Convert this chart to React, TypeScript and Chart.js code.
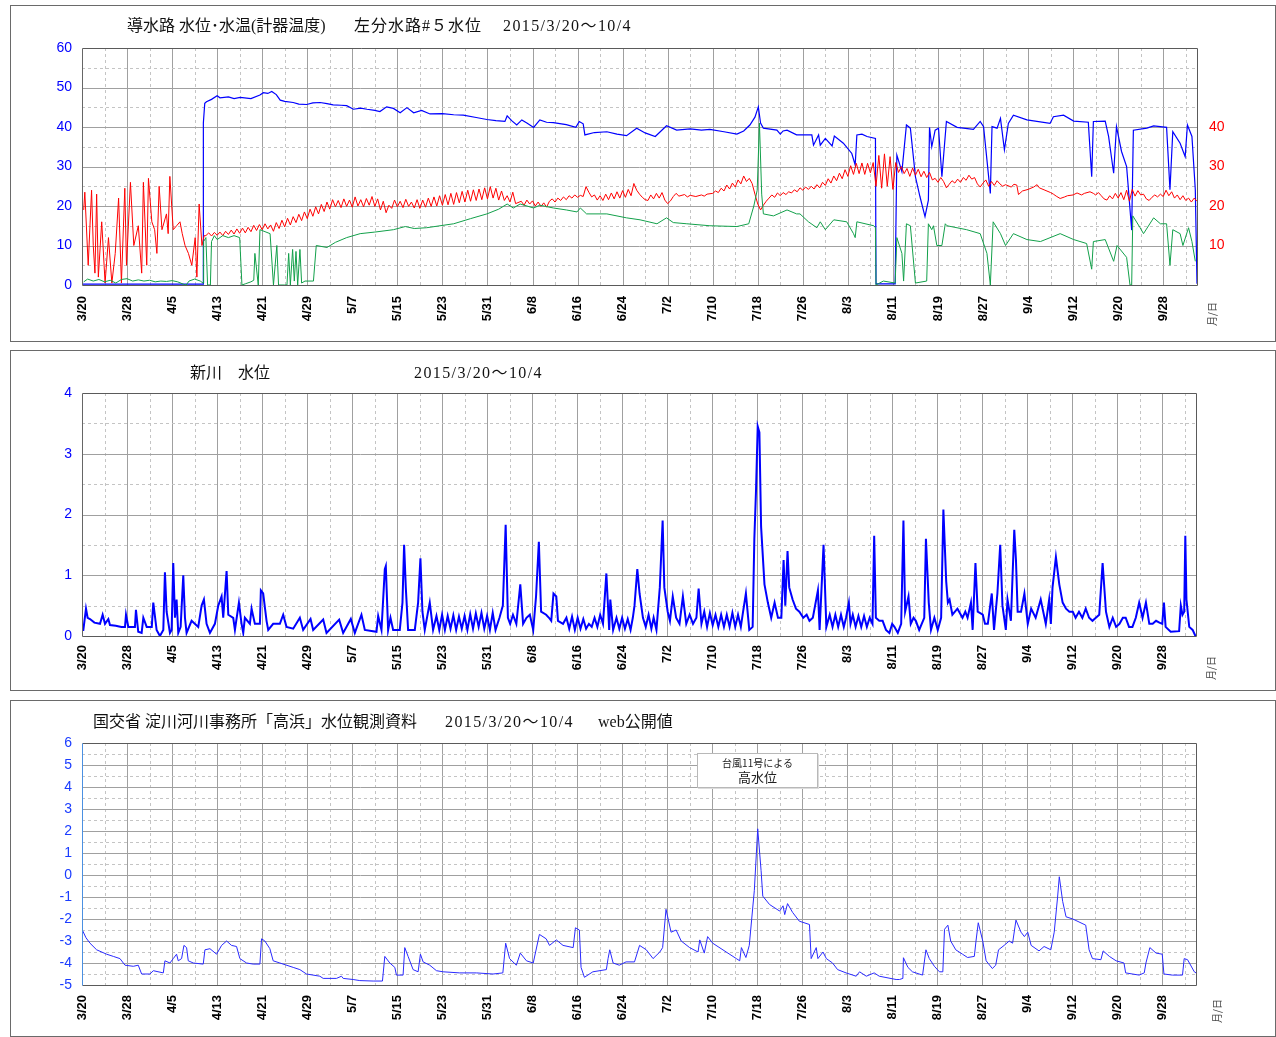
import React, { useEffect, useRef } from "react";
import { Chart, registerables } from "chart.js";

Chart.register(...registerables);

type Pt = [number, number];

// ---------- axis data ----------
const DATE_LABELS = ["3/20", "3/28", "4/5", "4/13", "4/21", "4/29", "5/7", "5/15", "5/23", "5/31", "6/8", "6/16", "6/24", "7/2", "7/10", "7/18", "7/26", "8/3", "8/11", "8/19", "8/27", "9/4", "9/12", "9/20", "9/28"];
const TICK_DAYS = [0, 8, 16, 24, 32, 40, 48, 56, 64, 72, 80, 88, 96, 104, 112, 120, 128, 136, 144, 152, 160, 168, 176, 184, 192];
const X_MAX_DAY = 198; // 10/4
const Y1_TICKS = [0, 10, 20, 30, 40, 50, 60];
const Y1_RIGHT_TICKS = [10, 20, 30, 40];
const Y2_TICKS = [0, 1, 2, 3, 4];
const Y3_TICKS = [-5, -4, -3, -2, -1, 0, 1, 2, 3, 4, 5, 6];

// ---------- series (day offset from 3/20, value) ----------
// 導水路 水位 (blue)
const SUIRO_LEVEL: Pt[] = [
  [0, 0.2], [21.5, 0.2], [21.55, 41], [21.8, 46], [22.1, 46.4], [23, 47], [24, 47.9], [24.5, 47.4], [26, 47.6], [27, 47.2],
  [28.1, 47.5], [30, 47.2], [31.6, 48.1], [32.2, 48.7], [33, 48.5], [33.7, 49.0], [34.5, 48.2], [35.2, 46.8], [36, 46.5], [37.5, 46.2],
  [38.5, 45.8], [39.9, 45.7], [41, 46.1], [42.3, 46.2], [43.5, 45.9], [44.6, 45.6], [46, 45.5], [47.0, 45.4], [48.2, 44.5], [49.5, 44.8],
  [50.6, 44.5], [52, 44.2], [52.9, 43.9], [54.1, 45.1], [55.3, 44.7], [56.5, 43.6], [57.7, 44.9], [58.9, 43.6], [60.3, 44.2], [61.8, 43.3],
  [64, 43.4], [66, 43.1], [67.7, 43.0], [70, 42.4], [71.9, 41.9], [73.5, 41.6], [75.1, 41.4], [75.5, 42.8], [76.3, 41.6], [77.2, 40.5],
  [78.1, 41.8], [79, 41.0], [80.2, 39.9], [81.3, 41.8], [82.5, 41.2], [83.7, 41.1], [86, 40.6], [87.7, 39.9], [88.3, 41.4], [89.0, 40.8],
  [89.3, 38.0], [91, 38.6], [93.2, 38.8], [95, 38.2], [96.7, 37.8], [98.5, 39.7], [100, 38.5], [101.8, 37.6], [103.8, 40.3], [105.6, 39.2],
  [108, 39.5], [110, 39.2], [111.5, 39.4], [114, 38.8], [116.3, 38.2], [117.5, 39.0], [118.6, 40.5], [119.5, 42.5], [120.1, 45.1], [120.5, 41.0],
  [121.0, 39.7], [123.4, 39.2], [124.0, 38.2], [124.5, 39.0], [125.2, 39.2], [126.9, 38.0], [129.6, 38.0], [129.9, 35.4], [130.8, 38.0], [131.1, 35.4],
  [132.0, 37.1], [133.2, 35.2], [133.6, 37.7], [135.2, 35.9], [136.7, 33.3], [137.3, 30.4], [137.6, 38.0], [138.5, 38.2], [139.4, 37.6], [140.9, 37.1],
  [141.0, 0.3], [144.4, 0.3], [144.7, 32.9], [145.6, 28.7], [146.4, 40.5], [147.1, 39.7], [148.0, 27.4], [148.8, 22.4], [149.7, 17.3], [150.3, 21.5],
  [150.5, 39.9], [150.9, 35.0], [151.5, 39.2], [152.1, 39.7], [152.7, 27.4], [153.5, 41.4], [155.4, 39.9], [158.3, 39.4], [159.5, 41.4], [160.1, 40.1],
  [161.3, 23.2], [161.6, 40.1], [162.5, 39.7], [163.1, 42.2], [163.8, 34.2], [164.5, 40.9], [165.4, 43.0], [167.8, 41.8], [171.9, 40.9], [172.5, 42.6],
  [174.3, 43.0], [176.1, 41.5], [178.7, 41.2], [179.3, 27.4], [179.6, 41.4], [181.7, 41.5], [182.3, 37.6], [183.2, 28.3], [183.7, 40.1], [184.6, 33.8],
  [185.5, 30.0], [186.4, 13.9], [186.7, 39.2], [189.1, 39.7], [190.3, 40.3], [192.6, 39.9], [193.2, 24.1], [193.7, 38.8], [195.0, 35.9], [195.9, 32.5],
  [196.3, 40.5], [197.1, 37.6], [197.7, 24.1], [198, 0.3],
];

// 水温(計器温度) (red)
const SUIRO_TEMP: Pt[] = [
  [0.3, 19], [0.5, 23.5], [1.1, 5], [1.7, 24], [2.0, 10], [2.3, 3], [2.6, 23], [2.9, 2], [3.5, 16], [4.1, 0.5],
  [4.7, 12], [5.3, 0.5], [5.9, 8], [6.5, 22], [7.0, 0.5], [7.6, 24.5], [7.9, 5], [8.6, 26], [9.2, 10], [10.0, 15],
  [10.6, 3], [10.9, 26], [11.5, 5], [11.8, 27], [12.4, 16], [12.9, 14], [13.3, 8], [13.7, 25], [14.2, 14], [15.0, 18],
  [15.3, 13], [15.6, 27.5], [16.2, 14], [16.8, 15], [17.4, 16], [17.8, 13], [18.3, 10], [18.9, 8], [19.5, 5], [20.1, 12],
  [20.4, 2], [20.8, 20.5], [21.3, 10], [21.7, 12.5],
  [22, 12.5], [22.5, 13.2], [23, 12.4], [23.5, 13.3], [24, 12.6], [24.5, 13.4], [25, 12.5], [25.5, 13.6], [26, 12.8], [26.5, 13.9],
  [27, 12.9], [27.5, 14.2], [28, 13.1], [28.5, 14.4], [29, 13.2], [29.5, 14.6], [30, 13.5], [30.5, 15.1], [31, 13.8], [31.5, 15.3],
  [32, 14.0], [32.5, 15.5], [33, 14.2], [33.5, 15.2], [34, 13.6], [34.5, 15.8], [35, 14.3], [35.5, 16.4], [36, 14.7], [36.5, 16.9],
  [37, 15.2], [37.5, 17.3], [38, 15.8], [38.5, 17.9], [39, 16.3], [39.5, 18.5], [40, 16.8], [40.5, 19.2], [41, 17.4], [41.5, 19.8],
  [42, 18.0], [42.5, 20.4], [43, 18.6], [43.5, 21.0], [44, 19.2], [44.5, 21.6], [45, 19.8], [45.5, 21.4], [46, 19.6], [46.5, 21.8],
  [47, 19.9], [47.5, 21.5], [48, 19.7], [48.5, 22.3], [49, 20.0], [49.5, 21.6], [50, 19.8], [50.5, 21.9], [51, 20.2], [51.5, 22.4],
  [52, 19.9], [52.5, 21.8], [53, 19.0], [53.5, 21.2], [54, 18.3], [54.5, 20.2], [55, 19.4], [55.5, 21.5], [56, 19.8], [56.5, 21.2],
  [57, 19.6], [57.5, 21.7], [58, 19.9], [58.5, 21.0], [59, 19.5], [59.5, 21.6], [60, 19.4], [60.5, 21.5], [61, 19.7], [61.5, 22.0],
  [62, 19.9], [62.5, 22.3], [63, 20.0], [63.5, 22.6], [64, 20.2], [64.5, 22.9], [65, 20.3], [65.5, 23.2], [66, 20.4], [66.5, 23.4],
  [67, 20.8], [67.5, 23.7], [68, 21.0], [68.5, 24.0], [69, 21.2], [69.5, 24.1], [70, 21.4], [70.5, 24.3], [71, 21.6], [71.5, 24.6],
  [72, 21.8], [72.5, 24.9], [73, 22.0], [73.5, 24.5], [74, 21.5], [74.5, 23.8], [75, 21.4], [75.5, 22.6], [76, 21.0], [76.5, 23.5],
  [77, 20.6], [78, 21.2], [78.5, 20.2], [79, 21.5], [79.5, 20.5], [80, 21.3], [80.5, 20.0], [81, 21.0], [81.5, 19.9], [82, 20.8],
  [82.5, 19.7], [83, 21.2], [83.5, 21.8], [84, 21.0], [84.5, 22.0], [85, 21.4], [85.5, 22.3], [86, 21.6], [86.5, 22.6], [87, 22.0],
  [87.5, 22.8], [88, 22.2], [88.5, 22.7], [89, 22.4], [89.5, 24.9], [90, 23.5], [90.5, 22.3], [91, 22.8], [91.5, 21.5], [92, 22.6],
  [92.5, 21.4], [93, 23.0], [93.5, 21.6], [94, 23.3], [94.5, 21.8], [95, 23.6], [95.5, 22.0], [96, 23.9], [96.5, 22.2], [97, 24.2],
  [97.5, 22.6], [98, 25.7], [98.5, 24.0], [99, 23.0], [99.5, 22.2], [100, 21.6], [100.5, 21.4], [101, 22.8], [101.5, 21.8], [102, 23.2],
  [102.5, 22.0], [103, 23.4], [103.5, 21.5], [104, 20.6], [104.5, 21.3], [105, 22.4], [105.5, 23.2], [106, 22.5], [107, 22.9], [107.5, 22.3],
  [108, 22.7], [109, 22.4], [110, 22.8], [110.5, 22.5], [111, 23.0], [112, 23.2], [112.5, 23.8], [113, 23.4], [113.5, 24.5], [114, 23.8],
  [114.5, 25.3], [115, 24.3], [115.5, 25.8], [116, 24.8], [116.5, 26.6], [117, 25.6], [117.5, 27.6], [118, 26.2], [118.5, 27.0], [119, 25.7],
  [119.5, 23.0], [120, 20.5], [120.5, 19.0], [121, 20.2], [121.5, 21.2], [122, 22.0], [122.5, 22.8], [123, 22.2], [123.5, 23.3], [124, 22.6],
  [124.5, 23.4], [125, 22.9], [125.5, 23.6], [126, 23.3], [126.5, 24.1], [127, 23.6], [127.5, 24.6], [128, 24.0], [128.5, 24.8], [129, 24.2],
  [129.5, 25.0], [130, 24.3], [130.5, 25.4], [131, 24.6], [131.5, 26.0], [132, 25.2], [132.5, 26.9], [133, 25.8], [133.5, 27.6], [134, 26.4],
  [134.5, 28.3], [135, 26.9], [135.5, 29.2], [136, 27.5], [136.5, 30.2], [137, 28.0], [137.5, 30.8], [138, 28.2], [138.5, 30.9], [139, 28.0],
  [139.5, 30.8], [140, 28.4], [140.5, 31.0], [141, 25.0], [141.5, 32.8], [142, 24.5], [142.5, 33.2], [143, 25.0], [143.5, 32.5], [144, 24.2],
  [144.5, 31.0], [145, 28.5], [145.5, 30.0], [146, 28.2], [146.5, 29.5], [147, 27.5], [147.5, 29.6], [148, 27.8], [148.5, 29.3], [149, 27.4],
  [149.5, 28.8], [150, 27.2], [150.5, 28.5], [151, 26.6], [151.5, 27.0], [152, 26.0], [152.5, 27.2], [153, 26.2], [153.5, 24.6], [154, 25.5],
  [154.5, 26.4], [155, 25.8], [155.5, 26.8], [156, 26.0], [156.5, 27.2], [157, 26.5], [157.5, 27.8], [158, 26.8], [158.5, 27.2], [159, 25.6],
  [159.5, 24.8], [160, 25.8], [160.5, 26.6], [161, 25.0], [161.5, 26.2], [162, 25.2], [162.5, 26.4], [163, 25.6], [163.5, 25.0], [164, 25.4],
  [165, 24.8], [165.5, 25.5], [166, 25.3], [166.3, 22.9], [167, 23.8], [168, 24.2], [169, 24.8], [169.6, 25.4], [170, 24.6], [171, 24.0],
  [172, 23.4], [172.5, 23.0], [173, 22.5], [173.7, 21.9], [174.5, 22.3], [175, 22.6], [176, 22.8], [176.7, 23.3], [177.5, 22.8], [178, 23.2],
  [179, 23.6], [179.6, 23.2], [180, 22.8], [180.5, 23.4], [181, 22.6], [181.5, 21.8], [182, 21.5], [182.5, 22.6], [183, 21.8], [183.5, 23.2],
  [184, 22.0], [184.5, 23.4], [185, 21.6], [185.5, 24.0], [186, 21.2], [186.5, 24.2], [187, 22.5], [187.5, 23.9], [188, 22.8], [188.5, 23.0],
  [189, 21.8], [189.5, 21.4], [190, 22.2], [190.5, 22.8], [191, 22.3], [191.5, 23.0], [192, 22.4], [192.5, 24.0], [193, 22.6], [193.5, 23.6],
  [194, 22.0], [194.5, 22.8], [195, 21.6], [195.5, 22.6], [196, 21.4], [196.5, 22.0], [197, 21.0], [197.5, 22.0], [198, 21.2],
];

// 左分水路#5 水位 (green)
const BUNSUIRO5_LEVEL: Pt[] = [
  [0.3, 0.8], [1, 1.5], [2, 1.0], [3, 1.4], [4, 0.8], [5, 1.2], [6, 0.5], [7, 1.4], [8, 1.6], [9, 1.0],
  [10, 1.3], [11, 1.0], [12, 1.2], [13, 0.8], [14, 1.0], [15, 0.9], [16, 1.1], [17, 0.8], [18, 0.2], [18.5, 0.0],
  [19, 1.0], [20, 1.5], [21, 1.0], [21.5, 0.5], [21.6, 11], [22, 12], [22.3, 0], [22.8, 0], [23, 11], [23.5, 12.5],
  [24, 11.5], [25, 12.5], [26, 12], [27, 12.5], [28, 12], [28.4, 0], [29, 0.3], [30, 0.8], [30.5, 1.2], [30.7, 8],
  [31.3, 0], [31.6, 14], [32.5, 13.5], [33.4, 13], [34.0, 0], [34.6, 10], [34.9, 0], [36.0, 0], [36.4, 0], [36.7, 8],
  [37.0, 0], [37.4, 9], [37.7, 1], [38.0, 8.5], [38.3, 0], [38.7, 9], [39.0, 0.5], [39.6, 1], [41.1, 1], [41.6, 10],
  [43.5, 9.5], [45, 10.8], [47.0, 12], [49.4, 13], [52, 13.4], [55.3, 14], [57.4, 14.8], [59, 14.3], [61.2, 14.5], [66.0, 15.5],
  [69, 16.8], [71.9, 18], [74, 19.2], [75.5, 20.5], [76.6, 19.5], [77.8, 20.5], [80.2, 19.5], [81.3, 20.2], [83.7, 19.5], [86, 19.0],
  [87.9, 18.5], [88.5, 19.5], [89.6, 18], [93.2, 18], [96.7, 17], [99.1, 16.5], [102.1, 15.5], [103.8, 17], [105.0, 15.8], [107.4, 15.5],
  [111.5, 15], [116.3, 14.8], [118.4, 15.5], [119.3, 20], [119.9, 24], [120.3, 41], [120.7, 23], [121.0, 18], [122.8, 17.5], [125.2, 19],
  [126.9, 18], [127.5, 18], [129.0, 16], [130.5, 14.5], [131.1, 16], [132.0, 14], [133.5, 16.5], [135.8, 16], [137.0, 13], [137.3, 12],
  [137.6, 16], [140.6, 15], [140.9, 14.5], [141.0, 0], [142.3, 1], [144.4, 0.5], [144.7, 12], [145.6, 8], [145.9, 1], [146.4, 15.5],
  [147.1, 15], [148.0, 0.5], [150.0, 1], [150.3, 15.5], [150.9, 14], [151.2, 15], [151.8, 10], [152.7, 10], [153.3, 15.5], [153.6, 15],
  [157.1, 14], [159.5, 13], [160.7, 8], [161.3, 0], [161.8, 16], [163.1, 13], [164.0, 10], [165.4, 13], [167.8, 11.5], [170.2, 11],
  [173.7, 13], [176.1, 11.5], [178.4, 10.5], [179.3, 4], [179.6, 11], [181.7, 11.5], [183.2, 6], [183.8, 10], [185.5, 7], [186.1, 0],
  [186.4, 0], [186.6, 17.5], [187.9, 14.5], [188.5, 13], [190.3, 17], [191.5, 15.5], [192.6, 15.5], [193.2, 5], [193.7, 14], [195.0, 13],
  [195.5, 10], [196.5, 14.5], [197.1, 11], [197.7, 6],
];

// 新川 水位
const SHINKAWA_LEVEL: Pt[] = [
  [0, 0.1], [0.24, 0.1], [0.71, 0.45], [1.0, 0.3], [1.42, 0.28], [2.2, 0.22], [3.2, 0.2], [3.67, 0.35], [4.09, 0.2], [4.68, 0.28],
  [4.97, 0.18], [6.0, 0.17], [7.0, 0.15], [7.64, 0.15], [7.82, 0.35], [8.23, 0.15], [9.41, 0.15], [9.59, 0.43], [10.0, 0.07], [10.6, 0.05],
  [10.9, 0.3], [11.5, 0.15], [12.4, 0.15], [12.67, 0.55], [13.26, 0.1], [13.85, 0.0], [14.45, 0.1], [14.74, 1.05], [15.04, 0.4], [15.63, 0.05],
  [15.93, 0.1], [16.22, 1.2], [16.52, 0.3], [16.81, 0.6], [17.11, 0.05], [17.53, 0.15], [18.0, 1.0], [18.3, 0.3], [18.59, 0.05], [19.48, 0.25],
  [20.66, 0.15], [21.26, 0.5], [21.67, 0.6], [22.14, 0.2], [22.74, 0.05], [23.62, 0.2], [24.22, 0.5], [24.81, 0.65], [25.1, 0.3], [25.7, 1.07],
  [26.0, 0.35], [26.88, 0.3], [27.18, 0.1], [27.89, 0.55], [28.36, 0.2], [28.66, 0.05], [28.95, 0.3], [29.84, 0.2], [30.14, 0.45], [30.73, 0.2],
  [31.62, 0.2], [31.79, 0.75], [32.2, 0.7], [32.8, 0.25], [33.1, 0.1], [33.98, 0.2], [35.17, 0.2], [35.76, 0.35], [36.35, 0.15], [37.54, 0.12],
  [38.72, 0.3], [39.31, 0.1], [40.62, 0.28], [41.09, 0.1], [42.87, 0.27], [43.46, 0.05], [45.71, 0.27], [46.42, 0.05], [47.78, 0.28], [48.49, 0.05],
  [49.67, 0.35], [50.27, 0.1], [52.34, 0.07], [52.64, 0.33], [53.23, 0.1], [53.82, 1.1], [54.0, 1.15], [54.41, 0.1], [54.83, 0.3], [55.3, 0.1],
  [56.48, 0.1], [56.96, 0.55], [57.25, 1.5], [57.55, 0.8], [57.96, 0.1], [59.15, 0.1], [59.74, 0.55], [60.15, 1.28], [60.51, 0.4], [60.92, 0.1],
  [61.81, 0.55], [62.4, 0.1], [63, 0.33], [63.5, 0.1], [64, 0.35], [64.5, 0.1], [65, 0.33], [65.5, 0.12], [66, 0.34], [66.5, 0.1],
  [67, 0.32], [67.5, 0.12], [68, 0.33], [68.5, 0.1], [69, 0.36], [69.5, 0.12], [70, 0.37], [70.5, 0.15], [71, 0.38], [71.5, 0.12],
  [72, 0.33], [72.5, 0.1], [73, 0.38], [73.5, 0.1], [74.2, 0.3], [74.8, 0.5], [75.3, 1.83], [75.7, 0.3], [76.1, 0.2], [76.6, 0.35],
  [77.2, 0.2], [77.9, 0.85], [78.4, 0.2], [79.0, 0.3], [79.6, 0.35], [80.2, 0.1], [80.7, 0.65], [81.2, 1.55], [81.6, 0.4], [82.5, 0.35],
  [83.0, 0.3], [83.4, 0.25], [83.8, 0.7], [84.3, 0.65], [84.6, 0.25], [85.5, 0.2], [86.1, 0.3], [86.6, 0.12], [87.1, 0.32], [87.6, 0.1],
  [88.1, 0.3], [88.6, 0.12], [89.1, 0.28], [89.6, 0.12], [90.1, 0.2], [90.6, 0.15], [91.1, 0.3], [91.6, 0.15], [92.1, 0.35], [92.6, 0.2],
  [93.2, 1.03], [93.7, 0.1], [93.9, 0.6], [94.4, 0.1], [95.0, 0.3], [95.5, 0.12], [96.0, 0.3], [96.5, 0.12], [97.0, 0.28], [97.5, 0.1],
  [97.9, 0.3], [98.2, 0.5], [98.7, 1.1], [99.1, 0.7], [99.7, 0.3], [100.2, 0.15], [100.7, 0.35], [101.2, 0.12], [101.6, 0.3], [102.1, 0.1],
  [102.7, 0.8], [103.2, 1.9], [103.5, 0.8], [104.1, 0.4], [104.5, 0.25], [105.0, 0.65], [105.6, 0.3], [106.2, 0.2], [106.8, 0.65], [107.4, 0.2],
  [108.0, 0.35], [108.6, 0.2], [109.2, 0.3], [109.6, 0.78], [110.1, 0.2], [110.6, 0.4], [111.1, 0.15], [111.6, 0.38], [112.1, 0.18], [112.6, 0.35],
  [113.1, 0.15], [113.6, 0.35], [114.1, 0.15], [114.6, 0.35], [115.1, 0.15], [115.6, 0.38], [116.1, 0.15], [116.6, 0.35], [117.1, 0.15], [117.5, 0.4],
  [118.0, 0.7], [118.6, 0.1], [119.2, 0.15], [119.5, 1.6], [119.8, 2.4], [120.1, 3.45], [120.4, 3.35], [120.7, 1.8], [121.3, 0.85], [121.9, 0.55],
  [122.5, 0.3], [123.1, 0.55], [123.7, 0.3], [124.3, 0.3], [124.7, 1.25], [125.0, 0.5], [125.4, 1.4], [125.7, 0.8], [126.3, 0.6], [126.9, 0.45],
  [127.5, 0.4], [128.2, 0.3], [128.8, 0.35], [129.3, 0.25], [129.9, 0.3], [130.8, 0.75], [131.1, 0.1], [131.8, 1.5], [132.3, 0.15], [132.9, 0.35],
  [133.4, 0.15], [133.9, 0.35], [134.4, 0.15], [134.9, 0.35], [135.4, 0.15], [135.8, 0.3], [136.3, 0.55], [136.6, 0.2], [137.0, 0.35], [137.5, 0.15],
  [138.0, 0.33], [138.5, 0.15], [139.0, 0.33], [139.5, 0.15], [140.0, 0.3], [140.5, 0.2], [140.8, 1.65], [141.1, 0.3], [141.7, 0.25], [142.3, 0.25],
  [142.9, 0.1], [143.5, 0.05], [144.0, 0.2], [144.4, 0.15], [145.0, 0.05], [145.6, 0.2], [146.0, 1.9], [146.3, 0.4], [146.9, 0.65], [147.3, 0.2],
  [147.8, 0.3], [148.2, 0.25], [148.8, 0.1], [149.7, 0.3], [150.0, 1.6], [150.5, 0.55], [150.9, 0.1], [151.5, 0.3], [152.1, 0.1], [152.7, 0.3],
  [153.1, 2.08], [153.6, 0.9], [153.9, 0.55], [154.2, 0.6], [154.7, 0.35], [155.6, 0.45], [156.5, 0.3], [157.0, 0.4], [157.4, 0.3], [158.0, 0.55],
  [158.3, 0.1], [158.8, 1.2], [159.2, 0.4], [160.1, 0.35], [160.5, 0.2], [161.0, 0.2], [161.7, 0.7], [162.1, 0.1], [162.7, 0.7], [163.2, 1.5],
  [163.6, 0.5], [164.2, 0.1], [164.5, 0.6], [165.1, 0.25], [165.7, 1.75], [166.0, 1.25], [166.3, 0.4], [166.9, 0.4], [167.5, 0.7], [168.1, 0.2],
  [168.7, 0.45], [169.5, 0.3], [170.4, 0.6], [171.3, 0.2], [171.9, 0.6], [172.2, 0.2], [172.5, 0.8], [173.1, 1.3], [173.7, 0.85], [174.3, 0.55],
  [174.9, 0.45], [175.5, 0.4], [176.1, 0.4], [176.6, 0.3], [177.2, 0.4], [177.8, 0.3], [178.4, 0.45], [179.0, 0.3], [179.6, 0.25], [180.2, 0.3],
  [180.8, 0.35], [181.4, 1.2], [182.0, 0.4], [182.6, 0.15], [183.2, 0.3], [183.8, 0.15], [184.4, 0.2], [185.0, 0.3], [185.5, 0.3], [186.1, 0.15],
  [186.7, 0.15], [187.3, 0.3], [187.9, 0.55], [188.5, 0.3], [189.1, 0.55], [189.7, 0.2], [190.3, 0.2], [190.9, 0.25], [191.5, 0.22], [192.0, 0.2],
  [192.3, 0.55], [192.6, 0.15], [193.5, 0.07], [195.0, 0.08], [195.3, 0.5], [195.6, 0.35], [195.9, 0.4], [196.1, 1.65], [196.3, 0.6], [196.8, 0.15],
  [197.4, 0.1], [197.9, 0.0], [198, 0.0],
];

// 国交省「高浜」水位
const TAKAHAMA_LEVEL: Pt[] = [
  [0, -2.45], [0.06, -2.5], [0.7, -2.85], [1.42, -3.1], [2.6, -3.4], [4.38, -3.6], [5.57, -3.7], [6.75, -3.8], [7.64, -4.1], [9.12, -4.15],
  [10.0, -4.1], [10.6, -4.5], [12.08, -4.5], [12.67, -4.35], [14.45, -4.45], [14.74, -3.9], [15.63, -4.0], [16.22, -3.8], [16.81, -3.6], [17.11, -3.9],
  [17.7, -3.8], [18.12, -3.2], [18.59, -3.3], [18.89, -3.9], [19.78, -4.0], [21.55, -4.05], [21.85, -3.4], [22.74, -3.35], [23.92, -3.6], [24.81, -3.2],
  [25.7, -3.0], [26.58, -3.2], [27.47, -3.25], [28.06, -3.8], [29.25, -4.0], [30.43, -4.05], [31.62, -4.05], [31.91, -2.9], [32.5, -3.0], [33.39, -3.35],
  [33.98, -3.9], [35.17, -4.0], [37.54, -4.2], [38.72, -4.3], [39.9, -4.5], [42.27, -4.6], [42.87, -4.7], [45.23, -4.7], [46.12, -4.6], [46.42, -4.7],
  [48.19, -4.75], [49.38, -4.8], [51.75, -4.82], [53.4, -4.82], [53.82, -3.7], [54.71, -4.0], [55.6, -4.2], [55.89, -4.55], [57.07, -4.55], [57.37, -3.3],
  [57.96, -3.7], [58.85, -4.3], [59.74, -4.4], [60.15, -3.6], [60.63, -3.95], [61.81, -4.1], [63.0, -4.35], [64.18, -4.4], [67.14, -4.45], [70.1, -4.45],
  [73.06, -4.5], [74.8, -4.45], [75.3, -3.1], [76.0, -3.8], [77.2, -4.1], [77.9, -3.55], [79.0, -3.9], [80.2, -4.0], [81.3, -2.7], [82.5, -2.9],
  [83.1, -3.2], [84.3, -2.95], [85.5, -3.2], [87.3, -3.3], [87.7, -2.4], [88.4, -2.5], [88.7, -4.2], [89.3, -4.65], [90.8, -4.4], [93.2, -4.3],
  [93.5, -3.8], [93.8, -3.4], [94.4, -4.0], [95.5, -4.1], [96.7, -3.95], [98.2, -3.95], [99.1, -3.2], [100.3, -3.4], [101.5, -3.8], [102.7, -3.5],
  [103.2, -3.3], [103.8, -1.56], [104.7, -2.6], [105.6, -2.5], [106.5, -3.0], [108.0, -3.3], [109.5, -3.5], [109.8, -2.95], [110.6, -3.55], [111.2, -2.8],
  [112.1, -3.1], [114.5, -3.5], [116.3, -3.8], [116.9, -3.9], [117.2, -3.3], [118.0, -3.75], [118.6, -3.2], [119.5, -0.7], [120.1, 2.1], [120.7, 0.2],
  [121.0, -0.96], [122.2, -1.34], [124.0, -1.64], [124.6, -1.4], [124.9, -1.8], [125.4, -1.3], [126.3, -1.7], [127.5, -2.1], [129.3, -2.25], [129.6, -3.8],
  [130.5, -3.3], [130.8, -3.8], [131.7, -3.5], [132.3, -3.8], [133.4, -4.0], [134.3, -4.3], [135.8, -4.45], [137.6, -4.6], [138.2, -4.4], [139.4, -4.6],
  [140.8, -4.45], [141.7, -4.6], [144.7, -4.75], [145.3, -4.75], [145.9, -4.7], [146.0, -3.76], [146.8, -4.2], [147.6, -4.4], [149.4, -4.55], [150.0, -3.4],
  [150.6, -3.8], [151.5, -4.15], [152.4, -4.4], [153.0, -4.4], [153.3, -2.47], [153.9, -2.28], [154.4, -3.0], [155.3, -3.4], [156.5, -3.6], [157.4, -3.75],
  [158.6, -3.7], [158.9, -3.0], [159.3, -2.17], [160.1, -3.0], [160.7, -3.9], [161.8, -4.25], [162.4, -4.1], [162.9, -3.4], [163.9, -3.2], [164.8, -3.0],
  [165.4, -3.1], [166.0, -2.05], [166.9, -2.6], [167.5, -2.8], [168.1, -2.6], [168.7, -3.2], [170.1, -3.45], [171.0, -3.25], [172.2, -3.4], [172.8, -2.6],
  [173.4, -1.0], [173.7, -0.08], [174.3, -1.2], [174.9, -1.9], [176.1, -2.0], [178.4, -2.28], [179.0, -3.4], [179.6, -3.8], [181.1, -3.85], [181.5, -3.45],
  [182.6, -3.7], [183.8, -3.9], [185.2, -4.0], [185.5, -4.45], [187.9, -4.55], [188.8, -4.45], [189.1, -4.0], [189.8, -3.3], [190.9, -3.55], [192.0, -3.6],
  [192.3, -4.5], [193.8, -4.55], [195.6, -4.55], [195.9, -3.8], [196.5, -3.85], [197.7, -4.4], [198, -4.45],
];

// ---------- layout / style ----------
const PANEL_LEFT = 10;
const PANEL_WIDTH = 1266;
const PLOT_LEFT = 82;
const SANS = '"Liberation Sans", Arial, sans-serif';
const TITLE_FONT = '"Liberation Serif", "Noto Sans CJK JP", serif';
const JP_SANS = '"Noto Sans CJK JP", sans-serif';

interface SeriesCfg { data: Pt[]; color: string; width: number; }
interface PanelCfg {
  top: number; height: number; plotTop: number; plotBottom: number; plotRight: number;
  yMin: number; yMax: number; yTicks: number[]; yMinor: number; yMajor: number;
  yLabelColor: string; leftFrameColor: string; labelPad: number;
  rightTicks?: number[];
  series: SeriesCfg[];
}

const PANELS: PanelCfg[] = [
  {
    top: 5, height: 337, plotTop: 48, plotBottom: 285, plotRight: 1197,
    yMin: 0, yMax: 60, yTicks: Y1_TICKS, yMinor: 5, yMajor: 10,
    yLabelColor: "#0000ff", leftFrameColor: "#666666", labelPad: 11, rightTicks: Y1_RIGHT_TICKS,
    series: [
      { data: BUNSUIRO5_LEVEL, color: "#12a04a", width: 1 },
      { data: SUIRO_TEMP, color: "#ff0000", width: 1 },
      { data: SUIRO_LEVEL, color: "#0000ff", width: 1.2 },
    ],
  },
  {
    top: 350, height: 341, plotTop: 393, plotBottom: 636, plotRight: 1196,
    yMin: 0, yMax: 4, yTicks: Y2_TICKS, yMinor: 0.5, yMajor: 1,
    yLabelColor: "#0000ff", leftFrameColor: "#666666", labelPad: 9,
    series: [{ data: SHINKAWA_LEVEL, color: "#0000ff", width: 2 }],
  },
  {
    top: 700, height: 337, plotTop: 743, plotBottom: 985, plotRight: 1196,
    yMin: -5, yMax: 6, yTicks: Y3_TICKS, yMinor: 0.5, yMajor: 1,
    yLabelColor: "#1a3cff", leftFrameColor: "#4a90e2", labelPad: 10,
    series: [{ data: TAKAHAMA_LEVEL, color: "#2a2aff", width: 1 }],
  },
];

function crisp(v: number) { return Math.round(v) + 0.5; }

function gridPlugin(cfg: PanelCfg) {
  return {
    id: "customGrid",
    beforeDatasetsDraw(chart: any) {
      const { ctx, chartArea: a, scales } = chart;
      const xs = scales.x; const ys = scales.y;
      ctx.save();
      ctx.lineWidth = 1;
      for (let d = 4; d < X_MAX_DAY; d += 4) {
        const px = crisp(xs.getPixelForValue(d));
        const major = d % 8 === 0;
        ctx.strokeStyle = major ? "#a0a0a0" : "#c4c4c4";
        ctx.setLineDash(major ? [] : [3, 3]);
        ctx.beginPath(); ctx.moveTo(px, a.top); ctx.lineTo(px, a.bottom); ctx.stroke();
      }
      const steps = Math.round((cfg.yMax - cfg.yMin) / cfg.yMinor);
      for (let i = 1; i < steps; i++) {
        const v = cfg.yMin + i * cfg.yMinor;
        const r = v / cfg.yMajor;
        const major = Math.abs(r - Math.round(r)) < 1e-6;
        const py = crisp(ys.getPixelForValue(v));
        ctx.strokeStyle = major ? "#a0a0a0" : "#c4c4c4";
        ctx.setLineDash(major ? [] : [3, 3]);
        ctx.beginPath(); ctx.moveTo(a.left, py); ctx.lineTo(a.right, py); ctx.stroke();
      }
      ctx.restore();
    },
    afterDatasetsDraw(chart: any) {
      const { ctx, chartArea: a } = chart;
      ctx.save();
      ctx.lineWidth = 1;
      ctx.setLineDash([]);
      const l = crisp(a.left), r = crisp(a.right), t = crisp(a.top), b = crisp(a.bottom);
      ctx.strokeStyle = "#5a5a5a";
      ctx.beginPath();
      ctx.moveTo(l, t); ctx.lineTo(r, t); ctx.lineTo(r, b); ctx.lineTo(l, b);
      ctx.stroke();
      ctx.strokeStyle = cfg.leftFrameColor;
      ctx.beginPath(); ctx.moveTo(l, t); ctx.lineTo(l, b); ctx.stroke();
      ctx.restore();
    },
  };
}

function buildChart(canvas: HTMLCanvasElement, cfg: PanelCfg) {
  const H = cfg.height;
  const topPad = cfg.plotTop - cfg.top;
  const bottomRel = cfg.plotBottom - cfg.top;
  const xAxisH = H - bottomRel;
  const yAxisW = PLOT_LEFT - PANEL_LEFT;
  const rightW = PANEL_WIDTH - (cfg.plotRight - PANEL_LEFT);
  const scales: any = {
    x: {
      type: "linear", min: 0, max: X_MAX_DAY,
      afterBuildTicks: (s: any) => { s.ticks = TICK_DAYS.map((v) => ({ value: v })); },
      afterFit: (s: any) => { s.height = xAxisH; },
      grid: { display: false, drawTicks: false },
      border: { display: false },
      ticks: {
        autoSkip: false, minRotation: 90, maxRotation: 90, padding: cfg.labelPad,
        color: "#000000", font: { family: SANS, size: 13, weight: "bold" },
        callback: (_v: any, i: number) => DATE_LABELS[i],
      },
    },
    y: {
      type: "linear", position: "left", min: cfg.yMin, max: cfg.yMax,
      afterBuildTicks: (s: any) => { s.ticks = cfg.yTicks.map((v) => ({ value: v })); },
      afterFit: (s: any) => { s.width = yAxisW; },
      grid: { display: false, drawTicks: false },
      border: { display: false },
      ticks: { padding: 10, color: cfg.yLabelColor, font: { family: SANS, size: 14 }, callback: (v: any) => String(v) },
    },
  };
  if (cfg.rightTicks) {
    const rt = cfg.rightTicks;
    scales.y2 = {
      type: "linear", position: "right", min: cfg.yMin, max: cfg.yMax,
      afterBuildTicks: (s: any) => { s.ticks = rt.map((v) => ({ value: v })); },
      afterFit: (s: any) => { s.width = rightW; },
      grid: { display: false, drawTicks: false },
      border: { display: false },
      ticks: { padding: 12, color: "#ff0000", font: { family: SANS, size: 14 }, callback: (v: any) => String(v) },
    };
  }
  return new Chart(canvas, {
    type: "line",
    data: {
      datasets: cfg.series.map((s) => ({
        data: s.data.map(([x, y]) => ({ x, y })),
        borderColor: s.color,
        borderWidth: s.width,
        pointRadius: 0,
        tension: 0,
        fill: false,
      })),
    },
    options: {
      responsive: false,
      animation: false,
      events: [],
      layout: { padding: { top: topPad, left: 0, bottom: 0, right: cfg.rightTicks ? 0 : rightW } },
      plugins: { legend: { display: false }, tooltip: { enabled: false }, title: { display: false } },
      scales,
    },
    plugins: [gridPlugin(cfg)],
  } as any);
}

const abs = (left: number, top: number, extra: React.CSSProperties = {}): React.CSSProperties => ({
  position: "absolute", left, top, whiteSpace: "nowrap", ...extra,
});

export default function App() {
  const c1 = useRef<HTMLCanvasElement>(null);
  const c2 = useRef<HTMLCanvasElement>(null);
  const c3 = useRef<HTMLCanvasElement>(null);

  useEffect(() => {
    const refs = [c1, c2, c3];
    const charts = PANELS.map((p, i) => buildChart(refs[i].current as HTMLCanvasElement, p));
    return () => { charts.forEach((c) => c.destroy()); };
  }, []);

  const titleStyle = (left: number, top: number, spacing = 0): React.CSSProperties =>
    abs(left, top, { fontFamily: TITLE_FONT, fontSize: 16, lineHeight: "18px", color: "#111", letterSpacing: spacing });
  const unitStyle = (cx: number, cy: number): React.CSSProperties =>
    abs(cx - 14, cy - 6, {
      width: 28, height: 12, lineHeight: "12px", fontSize: 10, textAlign: "center",
      fontFamily: JP_SANS, color: "#444", transform: "rotate(-90deg)",
    });

  return (
    <div style={{ position: "absolute", left: 0, top: 0, width: 1276, height: 1037, background: "#fff", overflow: "hidden" }}>
      {PANELS.map((p, i) => (
        <div key={"b" + i} style={abs(PANEL_LEFT, p.top, { width: PANEL_WIDTH, height: p.height, border: "1px solid #6a6a6a", boxSizing: "border-box" })} />
      ))}
      <canvas ref={c1} width={PANEL_WIDTH} height={PANELS[0].height} style={abs(PANEL_LEFT, PANELS[0].top, { width: PANEL_WIDTH, height: PANELS[0].height })} />
      <canvas ref={c2} width={PANEL_WIDTH} height={PANELS[1].height} style={abs(PANEL_LEFT, PANELS[1].top, { width: PANEL_WIDTH, height: PANELS[1].height })} />
      <canvas ref={c3} width={PANEL_WIDTH} height={PANELS[2].height} style={abs(PANEL_LEFT, PANELS[2].top, { width: PANEL_WIDTH, height: PANELS[2].height })} />

      <div style={titleStyle(127, 17)}>導水路 水位･水温(計器温度)</div>
      <div style={titleStyle(354, 17, 1)}>左分水路#５水位</div>
      <div style={titleStyle(503, 17, 1.4)}>2015/3/20～10/4</div>

      <div style={titleStyle(190, 364)}>新川　水位</div>
      <div style={titleStyle(414, 364, 1.4)}>2015/3/20～10/4</div>

      <div style={titleStyle(93, 713)}>国交省 淀川河川事務所「高浜」水位観測資料</div>
      <div style={titleStyle(445, 713, 1.4)}>2015/3/20～10/4</div>
      <div style={titleStyle(598, 713)}>web公開値</div>

      <div style={unitStyle(1212, 314)}>月/日</div>
      <div style={unitStyle(1211, 668)}>月/日</div>
      <div style={unitStyle(1217, 1011)}>月/日</div>

      <div style={abs(697, 753, {
        width: 121, height: 35, boxSizing: "border-box", background: "#fff",
        border: "1px solid #b8b8b8", boxShadow: "1px 1px 0 #dcdcdc", textAlign: "center",
        fontFamily: JP_SANS, color: "#222",
      })}>
        <div style={{ fontSize: 10, lineHeight: "13px", marginTop: 2 }}>台風11号による</div>
        <div style={{ fontSize: 13, lineHeight: "15px" }}>高水位</div>
      </div>
    </div>
  );
}
